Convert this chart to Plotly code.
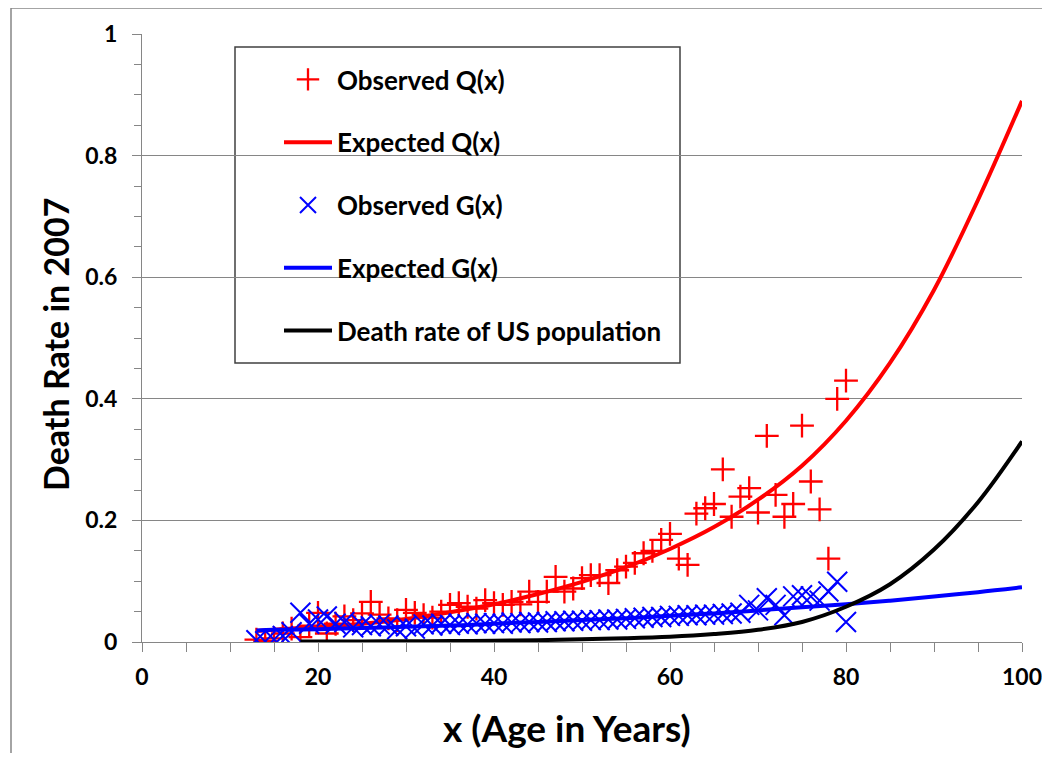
import plotly.graph_objects as go

# ---------------- data ----------------
ages = list(range(13, 81))
obs_q = [0.004, 0.002, 0.006, 0.014, 0.022, 0.008, 0.027, 0.048, 0.014, 0.030,
         0.042, 0.036, 0.047, 0.066, 0.045, 0.039, 0.036, 0.053, 0.048, 0.044,
         0.040, 0.050, 0.061, 0.064, 0.058, 0.055, 0.069, 0.064, 0.061, 0.066,
         0.062, 0.083, 0.066, 0.083, 0.107, 0.083, 0.088, 0.105, 0.110, 0.110,
         0.097, 0.118, 0.124, 0.130, 0.146, 0.150, 0.168, 0.178, 0.137, 0.127,
         0.211, 0.220, 0.227, 0.284, 0.206, 0.239, 0.253, 0.213, 0.339, 0.242,
         0.206, 0.227, 0.356, 0.264, 0.218, 0.137, 0.400, 0.430]
obs_g = [0.003, 0.001, 0.004, 0.010, 0.016, 0.048, 0.030, 0.037, 0.042, 0.030,
         0.033, 0.024, 0.028, 0.026, 0.029, 0.027, 0.021, 0.026, 0.022, 0.029,
         0.027, 0.030, 0.028, 0.030, 0.029, 0.031, 0.030, 0.031, 0.030, 0.032,
         0.031, 0.033, 0.032, 0.033, 0.034, 0.034, 0.035, 0.035, 0.036, 0.036,
         0.037, 0.037, 0.038, 0.039, 0.040, 0.041, 0.041, 0.043, 0.043, 0.044,
         0.044, 0.045, 0.045, 0.046, 0.047, 0.048, 0.061, 0.052, 0.072, 0.061,
         0.044, 0.075, 0.077, 0.075, 0.068, 0.083, 0.099, 0.033]

curve_age = [13, 15, 20, 25, 30, 35, 40, 45, 50, 55, 60, 65, 70, 75, 80, 85, 90, 95, 100]
exp_q = [0.018, 0.020, 0.025, 0.030, 0.038, 0.049, 0.062, 0.079, 0.099, 0.123,
         0.153, 0.189, 0.234, 0.290, 0.364, 0.459, 0.579, 0.727, 0.890]
exp_g = [0.019, 0.020, 0.021, 0.023, 0.025, 0.027, 0.030, 0.033, 0.036, 0.039,
         0.043, 0.047, 0.052, 0.057, 0.062, 0.068, 0.075, 0.082, 0.090]

us_age = [18, 20, 25, 30, 35, 40, 45, 50, 55, 60, 65, 70, 75, 80, 85, 90, 95, 100]
us_rate = [0.0008, 0.0009, 0.0010, 0.0011, 0.0015, 0.0020, 0.0030, 0.0045, 0.0060,
           0.0085, 0.0130, 0.0200, 0.0330, 0.0580, 0.0950, 0.1520, 0.2300, 0.3300]

x_ticks = [0, 20, 40, 60, 80, 100]
y_ticks = [0, 0.2, 0.4, 0.6, 0.8, 1]
y_ticktext = ["0", "0.2", "0.4", "0.6", "0.8", "1"]

FONT = "Lato"
GRAY = "#868686"

fig = go.Figure()
fig.add_trace(go.Scatter(
    x=ages, y=obs_q, mode="markers", name="Observed Q(x)", legendgroup="a",
    marker=dict(symbol="cross-thin", size=17, color="red",
                line=dict(color="red", width=2.3))))
fig.add_trace(go.Scatter(
    x=curve_age, y=exp_q, mode="lines", name="Expected Q(x)", legendgroup="b",
    line=dict(color="red", width=4, shape="spline")))
fig.add_trace(go.Scatter(
    x=ages, y=obs_g, mode="markers", name="Observed G(x)", legendgroup="c",
    marker=dict(symbol="x-thin", size=20, color="blue",
                line=dict(color="blue", width=2))))
fig.add_trace(go.Scatter(
    x=curve_age, y=exp_g, mode="lines", name="Expected G(x)", legendgroup="d",
    line=dict(color="blue", width=4, shape="spline")))
fig.add_trace(go.Scatter(
    x=us_age, y=us_rate, mode="lines", name="Death rate of US population",
    legendgroup="e", line=dict(color="black", width=4, shape="spline")))

# helpers: convert screenshot pixel positions to paper coordinates
# (plot area spans x 142..1022 and y 34..642 in the page)
def px_x(p):
    return (p - 142) / 880.0

def px_y(p):
    return (642 - p) / 608.0

fig.update_layout(
    width=1034, height=745,
    margin=dict(l=134, r=20, t=26, b=111, autoexpand=False),
    paper_bgcolor="white", plot_bgcolor="white",
    font=dict(family=FONT, color="black"),
    showlegend=True,
    legend=dict(
        x=px_x(279), y=px_y(56), xanchor="left", yanchor="top",
        bgcolor="rgba(0,0,0,0)", borderwidth=0,
        font=dict(family=FONT, size=26, color="black", weight="bold"),
        traceorder="grouped", tracegroupgap=26, itemwidth=48,
    ),
    xaxis=dict(
        range=[0, 100], tickvals=x_ticks, ticks="outside", ticklen=9,
        tickcolor=GRAY, tickwidth=1, showline=True, linecolor=GRAY, linewidth=1,
        showgrid=False, zeroline=False, automargin=False,
        tickfont=dict(family=FONT, size=23, color="black", weight="bold"),
        ticklabelstandoff=5, ticklabeloverflow="allow",
        minor=dict(dtick=5, ticks="outside", ticklen=9, tickcolor=GRAY, showgrid=False),
    ),
    yaxis=dict(
        range=[0, 1], tickvals=y_ticks, ticktext=y_ticktext,
        ticks="outside", ticklen=9,
        tickcolor=GRAY, tickwidth=1, showline=True, linecolor=GRAY, linewidth=1,
        showgrid=True, gridcolor=GRAY, gridwidth=1, zeroline=False, automargin=False,
        tickfont=dict(family=FONT, size=23, color="black", weight="bold"),
        ticklabelstandoff=10, ticklabeloverflow="allow",
        minor=dict(dtick=0.05, ticks="outside", ticklen=7, tickcolor=GRAY, showgrid=False),
    ),
    shapes=[
        dict(type="rect", xref="paper", yref="paper",
             x0=px_x(235), x1=px_x(680), y0=px_y(363), y1=px_y(47),
             fillcolor="white", line=dict(color="#404040", width=1.5), layer="between"),
        dict(type="rect", xref="paper", yref="paper",
             x0=px_x(11), x1=px_x(1070), y0=px_y(780), y1=px_y(8),
             fillcolor="rgba(0,0,0,0)", line=dict(color=GRAY, width=1.5), layer="above"),
    ],
    annotations=[
        dict(text="x (Age in Years)", xref="paper", yref="paper",
             x=px_x(567), y=px_y(727), xanchor="center", yanchor="middle",
             showarrow=False,
             font=dict(family=FONT, size=37, color="black", weight="bold")),
        dict(text="Death Rate in 2007", xref="paper", yref="paper",
             x=px_x(55), y=px_y(345), xanchor="center", yanchor="middle",
             textangle=-90, showarrow=False,
             font=dict(family=FONT, size=34, color="black", weight="bold")),
    ],
)

fig.write_html("out.html")
